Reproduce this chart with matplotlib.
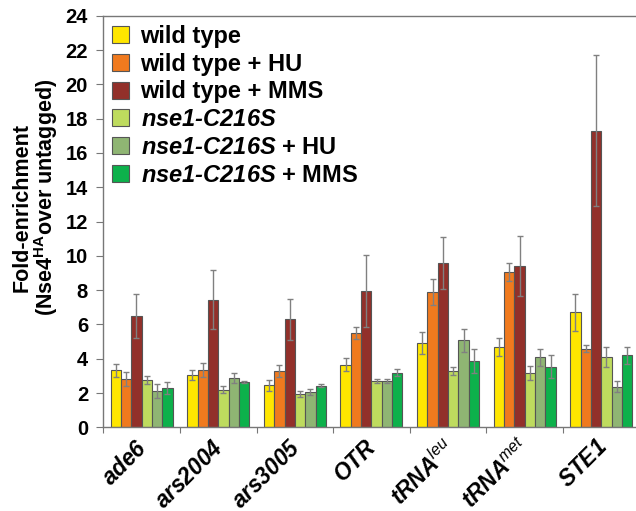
import matplotlib
matplotlib.use("Agg")
import matplotlib.pyplot as plt
import numpy as np
from matplotlib.patches import Patch
from matplotlib.ticker import FixedLocator

plt.rcParams['font.family'] = ['Liberation Sans', 'DejaVu Sans']
plt.rcParams['mathtext.fontset'] = 'custom'
plt.rcParams['mathtext.rm'] = 'Liberation Sans'
plt.rcParams['mathtext.it'] = 'Liberation Sans:italic'
plt.rcParams['mathtext.bf'] = 'Liberation Sans:bold'
plt.rcParams['mathtext.bfit'] = 'Liberation Sans:italic:bold'

categories = [r'$\mathbfit{ade6}$', r'$\mathbfit{ars2004}$', r'$\mathbfit{ars3005}$',
              r'$\mathbfit{OTR}$', r'$\mathbfit{tRNA}^{\mathit{leu}}$',
              r'$\mathbfit{tRNA}^{\mathit{met}}$', r'$\mathbfit{STE1}$']

series_names = ['wild type', 'wild type + HU', 'wild type + MMS',
                r'$\mathbfit{nse1‐C216S}$', r'$\mathbfit{nse1‐C216S}$ + HU',
                r'$\mathbfit{nse1‐C216S}$ + MMS']

wt = [3.33, 3.04, 2.45, 3.65, 4.92, 4.70, 6.70]
wt_hu = [2.82, 3.35, 3.29, 5.51, 7.90, 9.04, 4.57]
wt_mms = [6.50, 7.45, 6.31, 7.94, 9.59, 9.41, 17.28]
nse = [2.76, 2.20, 1.94, 2.71, 3.29, 3.16, 4.12]
nse_hu = [2.10, 2.88, 2.06, 2.71, 5.08, 4.08, 2.37]
nse_mms = [2.31, 2.65, 2.43, 3.18, 3.88, 3.53, 4.20]

wt_err = [0.37, 0.31, 0.33, 0.39, 0.66, 0.52, 1.06]
wt_hu_err = [0.41, 0.39, 0.34, 0.35, 0.75, 0.53, 0.20]
wt_mms_err = [1.30, 1.70, 1.20, 2.10, 1.50, 1.76, 4.40]
nse_err = [0.22, 0.18, 0.20, 0.12, 0.25, 0.41, 0.59]
nse_hu_err = [0.40, 0.28, 0.20, 0.12, 0.67, 0.51, 0.32]
nse_mms_err = [0.35, 0.05, 0.10, 0.20, 0.69, 0.66, 0.51]

values = [wt, wt_hu, wt_mms, nse, nse_hu, nse_mms]
errors = [wt_err, wt_hu_err, wt_mms_err, nse_err, nse_hu_err, nse_mms_err]
colors = ['#FFE600', '#F07A1E', '#92302A', '#BEDB5E', '#8FB573', '#0DB14B']

W, H = 636, 511
fig = plt.figure(figsize=(W / 100, H / 100), dpi=100)
left, right, top, bottom = 103.3, 639.6, 15.7, 427.3
ax = fig.add_axes([left / W, 1 - bottom / H, (right - left) / W, (bottom - top) / H])

n = len(categories)
x = np.arange(n)
bw = 62 / 76.6 / 6
for i, (v, e, c) in enumerate(zip(values, errors, colors)):
    pos = x + (i - 2.5) * bw
    ax.bar(pos, v, width=bw, color=c, edgecolor='#555555', linewidth=0.8, zorder=2)
    _, caps, _ = ax.errorbar(pos, v, yerr=e, fmt='none', ecolor='#808080', elinewidth=1.0,
                             capsize=2.2, capthick=1.0, zorder=3)
    for cap in caps:
        cap.set_color('#222222')
ax.set_xlim(-0.5, n - 0.5)
ax.set_ylim(0, 24)
ax.set_yticks(np.arange(0, 25, 2))
ax.set_yticklabels([str(t) for t in range(0, 25, 2)], fontsize=14.5, fontweight='bold')
ax.tick_params(axis='y', direction='out', length=5, width=0.8, color='#777777', pad=6)

ax.set_xticks(x - 0.08)
ax.set_xticklabels(categories, rotation=45, ha='right', va='top',
                   rotation_mode='anchor', fontsize=16.3)
ax.tick_params(axis='x', which='major', length=0, pad=6)
ax.xaxis.set_minor_locator(FixedLocator(np.arange(-0.5, n, 1.0)))
ax.tick_params(axis='x', which='minor', direction='out', length=4, width=0.8, color='#777777')

for s in ['left', 'bottom', 'top']:
    ax.spines[s].set_color('#777777')
    ax.spines[s].set_linewidth(1.0)
ax.spines['right'].set_visible(False)

fig.text(22 / W, 1 - 207 / H, 'Fold-enrichment', rotation=90, ha='center', va='center',
         fontsize=15.5, fontweight='bold')
fig.text(46 / W, 1 - 197 / H, r'(Nse4$^{\mathbf{HA}}$over untagged)', rotation=90,
         ha='center', va='center', fontsize=15.5, fontweight='bold')

handles = [Patch(facecolor=c, edgecolor='#555555', linewidth=0.8) for c in colors]
leg = fig.legend(handles, series_names, loc='upper left',
                 bbox_to_anchor=(111.7 / W, 1 - 25 / H), bbox_transform=fig.transFigure,
                 frameon=False, prop={'weight': 'bold', 'size': 17},
                 handlelength=0.72, handleheight=0.72, handletextpad=0.5,
                 labelspacing=0.2, borderpad=0, borderaxespad=0)

fig.savefig('out.png', dpi=100)
